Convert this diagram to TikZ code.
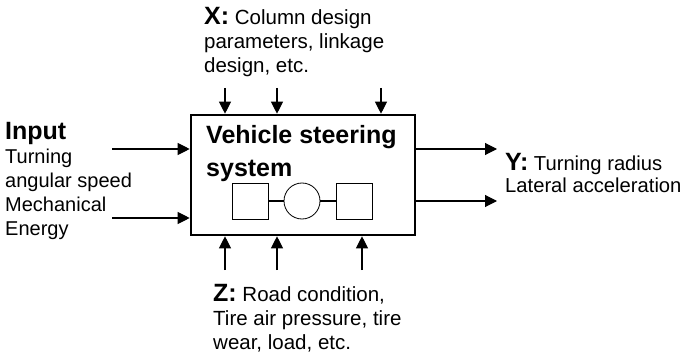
\documentclass[tikz,border=0pt]{standalone}
\usepackage{fontspec}
\setmainfont{Liberation Sans}
\usetikzlibrary{arrows.meta, positioning, calc}

\begin{document}
\begin{tikzpicture}[
  x=1pt, y=-1pt, >={Triangle[length=12pt, width=12pt]},
  sysbox/.style={draw, line width=2.6pt, minimum width=224pt, minimum height=120pt, inner sep=0pt},
  part/.style={draw, line width=0.8pt, minimum size=36pt, inner sep=0pt},
  flow/.style={->, line width=1.1pt},
  txt/.style={anchor=base west, align=left, inner sep=0pt, font=\fontsize{20.5}{24}\selectfont},
]
\useasboundingbox (0,0) rectangle (681,353);

% the system box and its inner sketch
\node[sysbox] (sys) at (303,175) {};
\node[anchor=base west, align=left, inner sep=0pt,
  font=\fontsize{25}{33}\selectfont\bfseries] (title) at (206,176) {Vehicle steering\\system};
\node[part] (sq1) at (250,201) {};
\node[part, circle] (whl) at (302,201) {};
\node[part] (sq2) at (354,201) {};
\draw[line width=1.6pt] (sq1) -- (whl) (whl) -- (sq2);

% input side (base = last line)
\node[txt, font=\fontsize{20}{23.7}\selectfont] (inp) at (5,235) {{\fontsize{25}{24}\selectfont\bfseries Input}\\[1pt]
  Turning\\angular speed\\Mechanical\\Energy};
\coordinate (in1) at (112,149);
\coordinate (in2) at (112,218);
\draw[flow] (in1) -- (in1 -| sys.west);
\draw[flow] (in2) -- (in2 -| sys.west);

% X : design parameters from above
\node[txt] (xlab) at (204,73) {{\fontsize{25}{24}\selectfont\bfseries X:} Column design\\
  parameters, linkage\\design, etc.};
\coordinate (x1) at (225,88);
\coordinate (x2) at (277,88);
\coordinate (x3) at (381,88);
\foreach \c in {x1,x2,x3}
  \draw[flow] (\c) -- (\c |- sys.north);

% Z : disturbances from below
\node[txt] (zlab) at (213,349) {{\fontsize{25}{24}\selectfont\bfseries Z:} Road condition,\\
  Tire air pressure, tire\\wear, load, etc.};
\coordinate (z1) at (225,270);
\coordinate (z2) at (277,270);
\coordinate (z3) at (362,270);
\foreach \c in {z1,z2,z3}
  \draw[flow] (\c) -- (\c |- sys.south);

% Y : outputs
\coordinate (y1) at (497,149);
\coordinate (y2) at (497,201);
\draw[flow] (y1 -| sys.east) -- (y1);
\draw[flow] (y2 -| sys.east) -- (y2);
\node[txt, font=\fontsize{20.2}{21}\selectfont] (ylab) at (505,192) {{\fontsize{25}{24}\selectfont\bfseries Y:} Turning radius\\
  Lateral acceleration};

\end{tikzpicture}
\end{document}
